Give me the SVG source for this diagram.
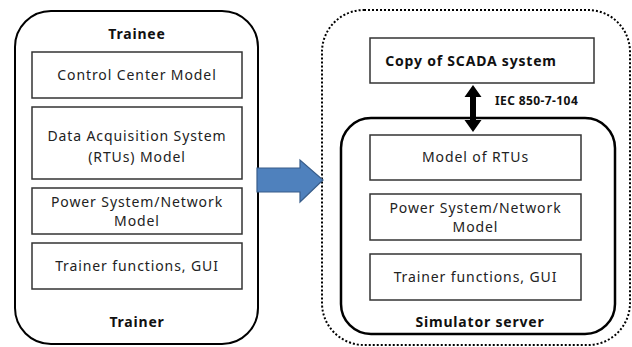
<svg xmlns="http://www.w3.org/2000/svg" width="632" height="347" viewBox="0 0 632 347">
  <style>
    .frame { fill: none; stroke: #000; stroke-width: 2; }
    .server { fill: none; stroke: #000; stroke-width: 2.5; }
    .dotted { fill: none; stroke: #000; stroke-width: 2; stroke-dasharray: 2 2; }
    .box { fill: #fff; stroke: #333; stroke-width: 1.5; }
    .lbl { font-family: "Noto Sans", "Open Sans", sans-serif; font-size: 14px; letter-spacing: 0.9px; fill: #222; text-anchor: middle; }
    .ttl { font-family: "Noto Sans", "Open Sans", sans-serif; font-size: 14px; letter-spacing: 0.8px; font-weight: bold; fill: #111; text-anchor: middle; }
    .proto { font-family: "Noto Sans", "Open Sans", sans-serif; font-size: 12px; letter-spacing: 0.4px; font-weight: bold; fill: #111; }
  </style>
  <rect width="632" height="347" fill="#fff"/>

  <!-- Trainee / trainer workstation -->
  <g id="trainee-station">
    <rect class="frame" x="15" y="11" width="243" height="333" rx="36" ry="36"/>
    <text class="ttl" x="137" y="39">Trainee</text>
    <text class="ttl" x="137" y="327">Trainer</text>
  </g>
  <g id="control-center-model">
    <rect class="box" x="32" y="52" width="210" height="46"/>
    <text class="lbl" x="137" y="80">Control Center Model</text>
  </g>
  <g id="data-acquisition-model">
    <rect class="box" x="32" y="107" width="210" height="72"/>
    <text class="lbl" x="137" y="141">Data Acquisition System</text>
    <text class="lbl" x="137" y="162">(RTUs) Model</text>
  </g>
  <g id="power-system-model-left">
    <rect class="box" x="32" y="188" width="210" height="46"/>
    <text class="lbl" x="137" y="207">Power System/Network</text>
    <text class="lbl" x="137" y="226">Model</text>
  </g>
  <g id="trainer-functions-left">
    <rect class="box" x="32" y="243" width="210" height="46"/>
    <text class="lbl" x="137" y="271">Trainer functions, GUI</text>
  </g>

  <!-- Simulator side -->
  <g id="simulator-environment">
    <rect class="dotted" x="322" y="10" width="308" height="335" rx="42" ry="42"/>
  </g>
  <g id="scada-copy">
    <rect class="box" x="370" y="38" width="224" height="45"/>
    <text class="ttl" x="471" y="66">Copy of SCADA system</text>
  </g>
  <g id="simulator-server">
    <rect class="server" x="341" y="118" width="274" height="216" rx="30" ry="30"/>
    <text class="ttl" x="480" y="327">Simulator server</text>
  </g>
  <g id="model-of-rtus">
    <rect class="box" x="370" y="135" width="211" height="45"/>
    <text class="lbl" x="475.5" y="162">Model of RTUs</text>
  </g>
  <g id="power-system-model-right">
    <rect class="box" x="370" y="194" width="211" height="46"/>
    <text class="lbl" x="475.5" y="213">Power System/Network</text>
    <text class="lbl" x="475.5" y="232">Model</text>
  </g>
  <g id="trainer-functions-right">
    <rect class="box" x="370" y="254" width="211" height="46"/>
    <text class="lbl" x="475.5" y="282">Trainer functions, GUI</text>
  </g>

  <!-- Connectors -->
  <g id="connectors">
    <path d="M257 168 H300 V160 L323 180 L300 202 V192 H257 Z" fill="#4F81BD" stroke="#385D8A" stroke-width="1.2"/>
    <path d="M473 85 L481.5 97 H476 V120 H481.5 L473 132 L464.5 120 H470 V97 H464.5 Z" fill="#000"/>
    <text class="proto" x="495" y="105">IEC 850-7-104</text>
  </g>
</svg>
